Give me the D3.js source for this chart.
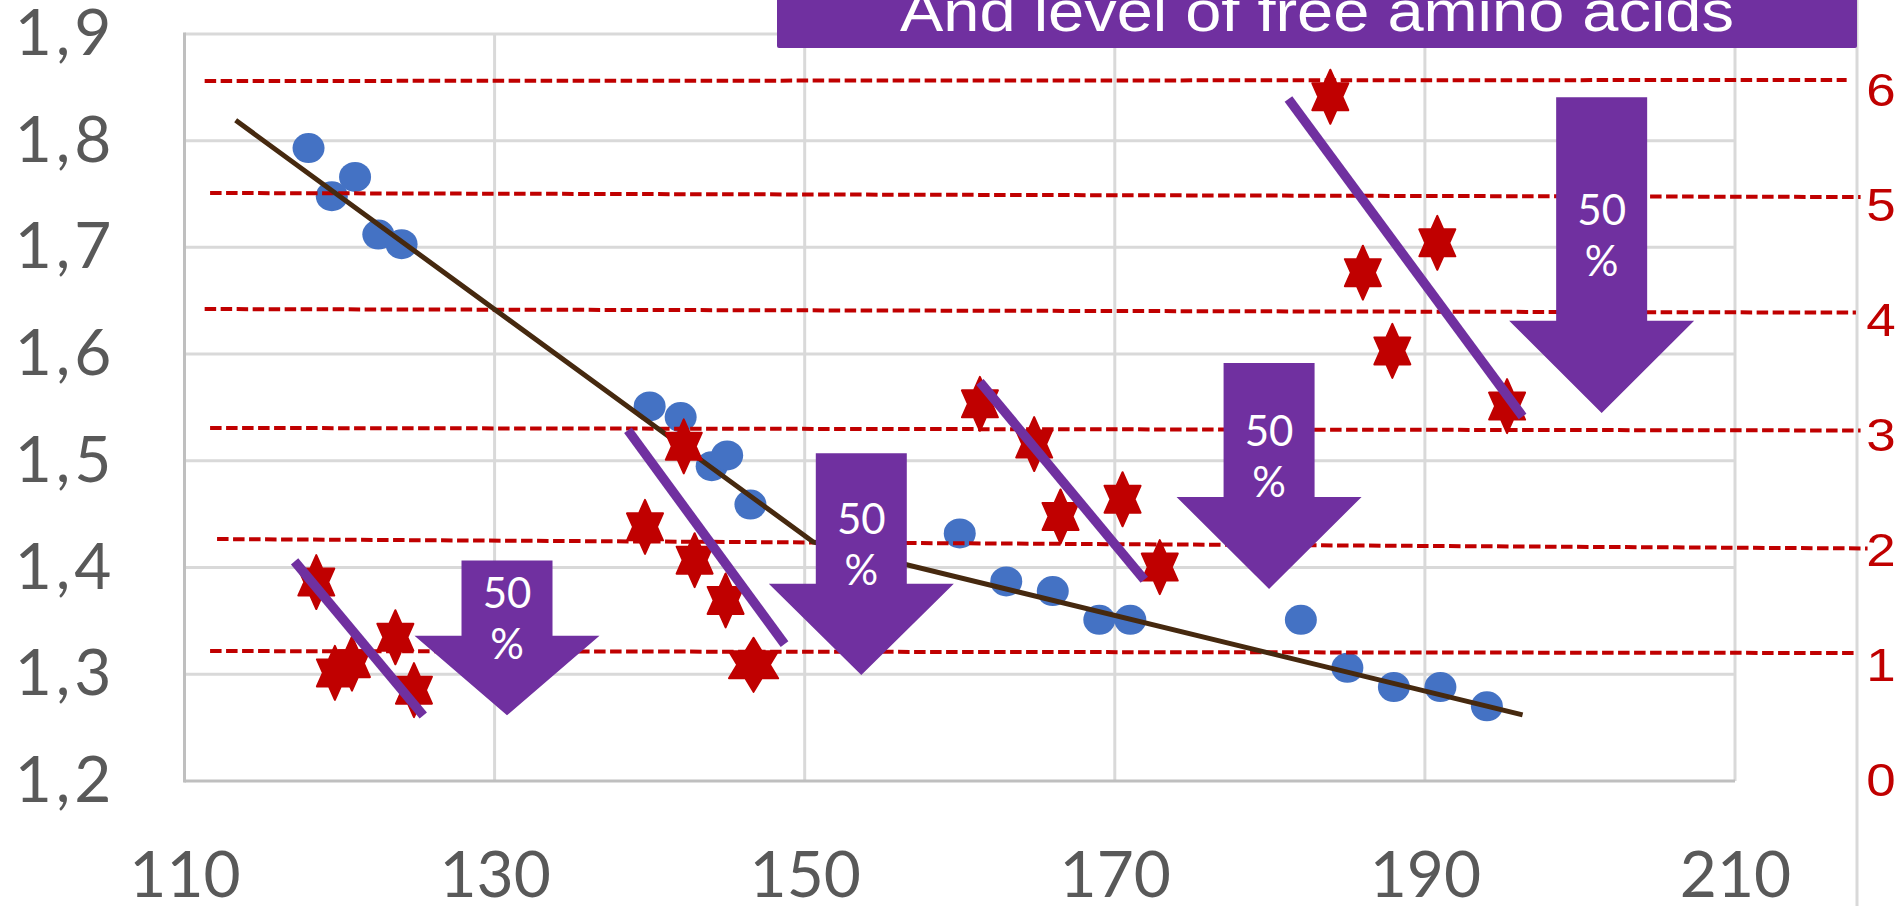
<!DOCTYPE html>
<html>
<head>
<meta charset="utf-8">
<script src="https://cdn.jsdelivr.net/npm/d3@7"></script>
<style>
  html, body { margin: 0; padding: 0; background: #fff; overflow: hidden; }
</style>
</head>
<body>
<div id="chart"></div>
<script>
// blue points (left axis)
var blueX = [118, 119.5, 121, 122.5, 124, 140, 142, 144, 145, 146.5, 160, 163, 166, 169, 171, 182, 185, 188, 191, 194];
var blueY = [1.793, 1.748, 1.766, 1.712, 1.703, 1.551, 1.541, 1.495, 1.505, 1.459, 1.432, 1.387, 1.378, 1.351, 1.351, 1.351, 1.306, 1.288, 1.288, 1.270];

// brown trend line (left axis)
var trendX = [113.3, 150.55, 196.3];
var trendY = [1.819, 1.424, 1.262];

// red stars (right axis, free amino acids)
var starX = [118.5, 119.7, 120.8, 123.6, 124.8, 139.7, 142.2, 142.9, 144.9, 146.7, 161.3, 164.8, 166.5, 170.5, 172.9, 183.9, 186.0, 187.9, 190.8, 195.3];
var starY = [1.73, 0.94, 1.02, 1.25, 0.79, 2.21, 2.91, 1.92, 1.57, 1.01, 3.28, 2.93, 2.30, 2.45, 1.86, 5.95, 4.42, 3.74, 4.68, 3.26];

// purple decline lines (right axis)
var declineX0 = [117.1, 138.6, 161.3, 181.2];
var declineX1 = [125.4, 148.7, 171.9, 196.3];
var declineY0 = [1.91, 3.05, 3.47, 5.93];
var declineY1 = [0.57, 1.19, 1.75, 3.17];

// red dashed level lines (right axis)
var levelX0 = [111.3, 111.65, 111.3, 111.65, 112.1, 111.65];
var levelX1 = [217.2, 218.1, 217.8, 218.1, 218.55, 217.8];
var levelY0 = [6.087, 5.113, 4.104, 3.07, 2.104, 1.13];
var levelY1 = [6.096, 5.078, 4.073, 3.048, 2.022, 1.113];

// "50 %" arrows (left axis values)
var arrowX = [130.8, 153.65, 179.95, 201.4];
var arrowTop = [1.4065, 1.5071, 1.5916, 1.8406];
var arrowNeck = [1.3362, 1.3847, 1.4661, 1.6312];
var arrowTip = [1.2616, 1.2993, 1.38, 1.5448];
var arrowText = ["50", "%"];

var xTicks = [110, 130, 150, 170, 190, 210];
var yTicks = [1.2, 1.3, 1.4, 1.5, 1.6, 1.7, 1.8, 1.9];
var y2Ticks = [0, 1, 2, 3, 4, 5, 6];
var title = "And level of free amino acids";

var W = 1895, H = 906;
var purple = "#7030A0", red = "#C00000", grid = "#D9D9D9";

var svg = d3.select("#chart").append("svg")
    .attr("width", W)
    .attr("height", H);

var x = d3.scaleLinear().domain([110, 210]).range([184.5, 1735]);
var y = d3.scaleLinear().domain([1.2, 1.9]).range([781, 33.9]);
var y2 = d3.scaleLinear().domain([0, 6.5]).range([781, 33.5]);

var fmt = d3.formatLocale({decimal: ",", thousands: ".", grouping: [3], currency: ["", ""]}).format(".1f");

// gridlines
svg.append("g").selectAll("line")
  .data(yTicks.slice(1))
  .enter().append("line")
    .attr("x1", x(110)).attr("x2", x(210))
    .attr("y1", function(d) { return y(d); })
    .attr("y2", function(d) { return y(d); })
    .attr("stroke", grid).attr("stroke-width", 3);
svg.append("g").selectAll("line")
  .data(xTicks.slice(1))
  .enter().append("line")
    .attr("x1", function(d) { return x(d); })
    .attr("x2", function(d) { return x(d); })
    .attr("y1", y(1.9)).attr("y2", y(1.2))
    .attr("stroke", grid).attr("stroke-width", 3);

// right border line
svg.append("line")
  .attr("x1", 1857).attr("x2", 1857).attr("y1", 0).attr("y2", H)
  .attr("stroke", grid).attr("stroke-width", 3);

// axis lines
svg.append("line")
  .attr("x1", x(110)).attr("x2", x(110)).attr("y1", y(1.9) - 1.5).attr("y2", y(1.2) + 1.5)
  .attr("stroke", "#BFBFBF").attr("stroke-width", 3);
svg.append("line")
  .attr("x1", x(110)).attr("x2", x(210)).attr("y1", y(1.2)).attr("y2", y(1.2))
  .attr("stroke", "#BFBFBF").attr("stroke-width", 3);

// axes labels
var gLeft = svg.append("g")
  .attr("transform", "translate(" + x(110) + ",0)")
  .call(d3.axisLeft(y).tickValues(yTicks).tickFormat(fmt).tickSize(0).tickPadding(69));
var gBottom = svg.append("g")
  .attr("transform", "translate(0," + y(1.2) + ")")
  .call(d3.axisBottom(x).tickValues(xTicks).tickFormat(d3.format("d")).tickSize(0).tickPadding(71));
var gRight = svg.append("g")
  .attr("transform", "translate(1857,0)")
  .call(d3.axisRight(y2).tickValues(y2Ticks).tickFormat(d3.format("d")).tickSize(0).tickPadding(8));

[gLeft, gBottom].forEach(function(g) {
  g.select(".domain").remove();
  g.selectAll("text")
    .attr("fill", "#595959")
    .style("font-family", "Lato, 'Open Sans', sans-serif")
    .style("font-size", "64px");
});
gLeft.selectAll("text").style("letter-spacing", "4px");
gRight.select(".domain").remove();
gRight.selectAll("text")
  .attr("fill", red)
  .attr("transform", "scale(1.15,1)")
  .style("font-family", "'Liberation Sans', Arial, sans-serif")
  .style("font-size", "46px");

// blue points
svg.append("g").selectAll("ellipse")
  .data(blueX)
  .enter().append("ellipse")
    .attr("cx", function(d) { return x(d); })
    .attr("cy", function(d, i) { return y(blueY[i]); })
    .attr("rx", 16).attr("ry", 15)
    .attr("fill", "#4472C4");

// red dashed lines
svg.append("g").selectAll("line")
  .data(levelX0)
  .enter().append("line")
    .attr("x1", function(d) { return x(d); })
    .attr("x2", function(d, i) { return x(levelX1[i]); })
    .attr("y1", function(d, i) { return y2(levelY0[i]); })
    .attr("y2", function(d, i) { return y2(levelY1[i]); })
    .attr("stroke", red).attr("stroke-width", 4)
    .attr("stroke-dasharray", "11.5,4.5");

// trend line
svg.append("path")
  .datum(trendX)
  .attr("d", d3.line()
    .x(function(d) { return x(d); })
    .y(function(d, i) { return y(trendY[i]); }))
  .attr("fill", "none")
  .attr("stroke", "#46290F")
  .attr("stroke-width", 5);

// stars
function hexagram(R, sx) {
  var pts = [];
  for (var k = 0; k < 12; k++) {
    var a = -Math.PI / 2 + k * Math.PI / 6;
    var r = (k % 2 === 0) ? R : R / Math.sqrt(3);
    pts.push([r * Math.cos(a) * sx, r * Math.sin(a)]);
  }
  return "M" + pts.join("L") + "Z";
}
var wideStars = [9];
svg.append("g").selectAll("path")
  .data(starX)
  .enter().append("path")
    .attr("d", function(d, i) { return hexagram(27, wideStars.indexOf(i) >= 0 ? 1.05 : 0.77); })
    .attr("transform", function(d, i) { return "translate(" + x(d) + "," + y2(starY[i]) + ")"; })
    .attr("fill", red)
    .attr("stroke", red).attr("stroke-width", 2).attr("stroke-linejoin", "round");

// purple decline lines
svg.append("g").selectAll("line")
  .data(declineX0)
  .enter().append("line")
    .attr("x1", function(d) { return x(d); })
    .attr("x2", function(d, i) { return x(declineX1[i]); })
    .attr("y1", function(d, i) { return y2(declineY0[i]); })
    .attr("y2", function(d, i) { return y2(declineY1[i]); })
    .attr("stroke", purple).attr("stroke-width", 9.5);

// arrows
var bodyHalf = 45.5, headHalf = 92.5;
var arrows = svg.append("g").selectAll("g")
  .data(arrowX)
  .enter().append("g");
arrows.append("path")
  .attr("d", function(d, i) {
    var cx = x(d), t = y(arrowTop[i]), n = y(arrowNeck[i]), p = y(arrowTip[i]);
    return "M" + (cx - bodyHalf) + "," + t + "L" + (cx + bodyHalf) + "," + t +
      "L" + (cx + bodyHalf) + "," + n + "L" + (cx + headHalf) + "," + n +
      "L" + cx + "," + p + "L" + (cx - headHalf) + "," + n +
      "L" + (cx - bodyHalf) + "," + n + "Z";
  })
  .attr("fill", purple);
arrows.each(function(d, i) {
  var mid = (y(arrowTop[i]) + y(arrowTip[i])) / 2 - 20;
  var g = d3.select(this);
  arrowText.forEach(function(t, k) {
    g.append("text")
      .attr("x", x(d))
      .attr("y", mid - 10 + k * 51)
      .attr("text-anchor", "middle")
      .attr("fill", "#fff")
      .style("font-family", "Lato, 'Open Sans', sans-serif")
      .style("font-size", "42px")
      .text(t);
  });
});

// title box
svg.append("rect")
  .attr("x", 777).attr("y", -6).attr("width", 1857 - 777).attr("height", 54)
  .attr("rx", 2)
  .attr("fill", purple);
svg.append("text")
  .attr("x", 1317 / 1.12).attr("y", 31)
  .attr("transform", "scale(1.12,1)")
  .attr("text-anchor", "middle")
  .attr("fill", "#fff")
  .style("font-family", "'Liberation Sans', Arial, sans-serif")
  .style("font-size", "58px")
  .text(title);
</script>
</body>
</html>
